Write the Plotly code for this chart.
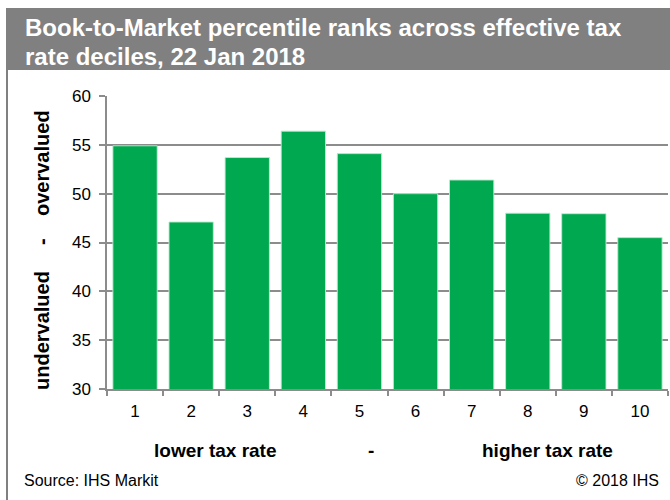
import plotly.graph_objects as go

# Effective tax rate deciles and book-to-market percentile ranks
deciles = ["1", "2", "3", "4", "5", "6", "7", "8", "9", "10"]
bm_rank = [54.9, 47.1, 53.7, 56.4, 54.1, 50.0, 51.4, 48.0, 47.95, 45.5]

title_lines = ["Book-to-Market percentile ranks across effective tax",
               "rate deciles, 22 Jan 2018"]
y_title_parts = ["overvalued", "-", "undervalued"]
x_title_parts = ["lower tax rate", "-", "higher tax rate"]
source_text = "Source: IHS Markit"
copyright_text = "\u00a9 2018 IHS"

W, H = 670, 500
GREEN = "#00a94f"
GRID = "#8c8c8c"
FONT = "Liberation Sans, Arial, sans-serif"

fig = go.Figure(
    go.Bar(
        x=deciles,
        y=bm_rank,
        marker=dict(color=GREEN, line=dict(color="rgba(190,235,210,0.9)", width=1)),
        hoverinfo="x+y",
    )
)

fig.update_layout(
    width=W,
    height=H,
    margin=dict(l=107, r=2, t=96, b=111),
    paper_bgcolor="white",
    plot_bgcolor="white",
    bargap=0.21,
    showlegend=False,
    font=dict(family=FONT, color="#000000", size=17),
)

fig.update_yaxes(
    range=[30, 60],
    dtick=5,
    showgrid=True,
    gridcolor=GRID,
    gridwidth=1.5,
    showline=True,
    linecolor=GRID,
    linewidth=1.5,
    ticks="outside",
    ticklen=6,
    tickcolor=GRID,
    tickwidth=1.5,
    ticklabelstandoff=5,
    tickfont=dict(size=17, color="#000"),
    zeroline=False,
)

fig.update_xaxes(
    type="category",
    showline=True,
    linecolor=GRID,
    linewidth=1.5,
    ticks="outside",
    tickson="boundaries",
    ticklen=5,
    tickcolor=GRID,
    tickwidth=1.5,
    ticklabelstandoff=6,
    tickfont=dict(size=17, color="#000"),
    showgrid=False,
)

shapes = [
    # grey title banner
    dict(type="rect", xref="paper", yref="paper",
         x0=(6 - 107) / 561, x1=(670 - 107) / 561,
         y0=(389 - 70) / 293, y1=(389 - 8) / 293,
         fillcolor="#808080", line=dict(width=0), layer="below"),
    # left frame rule
    dict(type="line", xref="paper", yref="paper",
         x0=(7 - 107) / 561, x1=(7 - 107) / 561,
         y0=(389 - 500) / 293, y1=(389 - 70) / 293,
         line=dict(color="#808080", width=2)),
]
fig.update_layout(shapes=shapes)


def px_to_paper(x, y):
    return (x - 107) / 561, (389 - y) / 293


annotations = []
for text, ycen in zip(title_lines, [27.5, 56.5]):
    px, py = px_to_paper(23, ycen)
    annotations.append(dict(text=text, x=px, y=py, xref="paper", yref="paper",
                            xanchor="left", yanchor="middle", showarrow=False,
                            font=dict(family=FONT, size=24, color="white", weight="bold")))

for text, ycen in zip(y_title_parts, [163, 242, 331]):
    px, py = px_to_paper(42, ycen)
    annotations.append(dict(text=text, x=px, y=py, xref="paper", yref="paper",
                            xanchor="center", yanchor="middle", textangle=-90, showarrow=False,
                            font=dict(family=FONT, size=20, color="black", weight="bold")))

for text, xcen in zip(x_title_parts, [215, 371, 547]):
    px, py = px_to_paper(xcen, 450)
    annotations.append(dict(text=text, x=px, y=py, xref="paper", yref="paper",
                            xanchor="center", yanchor="middle", showarrow=False,
                            font=dict(family=FONT, size=19, color="black", weight="bold")))

px, py = px_to_paper(22, 480)
annotations.append(dict(text=source_text, x=px, y=py, xref="paper", yref="paper",
                        xanchor="left", yanchor="middle", showarrow=False,
                        font=dict(family=FONT, size=16, color="black")))
px, py = px_to_paper(661, 480)
annotations.append(dict(text=copyright_text, x=px, y=py, xref="paper", yref="paper",
                        xanchor="right", yanchor="middle", showarrow=False,
                        font=dict(family=FONT, size=16, color="black")))

fig.update_layout(annotations=annotations)

fig.write_html("out.html")
